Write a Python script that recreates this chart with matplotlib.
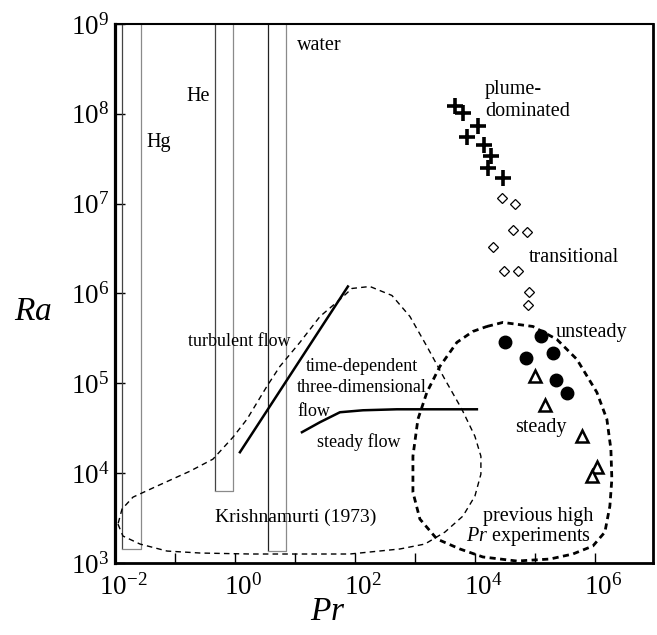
import matplotlib
matplotlib.use("Agg")
import matplotlib.pyplot as plt
import matplotlib.transforms as mtransforms
import numpy as np

plt.rcParams['font.family'] = 'Liberation Serif'
plt.rcParams['mathtext.fontset'] = 'custom'
plt.rcParams['mathtext.rm'] = 'Liberation Serif'
plt.rcParams['mathtext.it'] = 'Liberation Serif:italic'

# Fluid ranges (open-topped boxes)
fluids = ['Hg', 'He', 'water']
fluid_pr_lo = [0.013, 0.46, 3.5]
fluid_pr_hi = [0.027, 0.93, 7.1]
fluid_ra_min = [1.43e3, 6.4e3, 1.35e3]

# Experimental points
plume_pr = [4.6e3, 6.3e3, 1.12e4, 7.4e3, 1.4e4, 1.85e4, 1.65e4, 2.9e4]
plume_ra = [1.23e8, 1.03e8, 7.4e7, 5.5e7, 4.5e7, 3.4e7, 2.5e7, 1.95e7]

trans_pr = [2.8e4, 4.6e4, 4.3e4, 7.4e4, 2.0e4, 3.0e4, 5.2e4, 7.9e4, 7.6e4]
trans_ra = [1.17e7, 9.8e6, 5.1e6, 4.8e6, 3.3e6, 1.8e6, 1.8e6, 1.03e6, 7.4e5]

unsteady_pr = [3.2e4, 1.26e5, 7.1e4, 2.0e5, 2.24e5, 3.4e5]
unsteady_ra = [2.9e5, 3.4e5, 1.9e5, 2.15e5, 1.1e5, 7.9e4]

steady_pr = [1.0e5, 1.47e5, 6.1e5, 1.08e6, 8.9e5]
steady_ra = [1.2e5, 5.8e4, 2.6e4, 1.17e4, 9.3e3]

# Krishnamurti (1973) regime boundary, log10 values
krish_log_pr = [-1.95, -1.867, -1.583, -1.133, -0.583, 0.25, 1.083, 1.917, 2.75, 3.167,
                3.5, 3.8, 4.0, 4.1, 4.1, 4.0, 3.783, 3.5, 3.2, 2.917, 2.617, 2.25,
                1.95, 1.75, 1.417, 1.083, 0.75, 0.533, 0.2, -0.033, -0.367, -0.75,
                -1.3, -1.7, -1.883, -1.95]
krish_log_ra = [3.433, 3.3, 3.211, 3.133, 3.111, 3.1, 3.1, 3.1, 3.156, 3.211,
                3.344, 3.522, 3.744, 3.989, 4.189, 4.411, 4.711, 5.044, 5.411, 5.744,
                5.978, 6.078, 6.056, 5.933, 5.744, 5.456, 5.189, 4.967, 4.6, 4.4,
                4.156, 4.022, 3.856, 3.733, 3.6, 3.433]

# previous high Pr experiments region, log10 values
prev_log_pr = [4.2, 4.467, 4.967, 5.367, 5.7, 6.033, 6.2, 6.267, 6.283, 6.25, 6.167,
               5.967, 5.633, 5.25, 4.7, 4.133, 3.75, 3.367, 3.083, 2.967, 2.967,
               3.05, 3.2, 3.417, 3.7, 3.967, 4.2]
prev_log_ra = [5.633, 5.678, 5.633, 5.489, 5.267, 4.9, 4.6, 4.267, 3.933, 3.633, 3.344,
               3.189, 3.1, 3.044, 3.022, 3.067, 3.156, 3.267, 3.489, 3.789, 4.189,
               4.6, 4.9, 5.189, 5.456, 5.578, 5.633]

# turbulent / steady flow boundaries, log10 values
turb_log_pr = [0.083, 1.883]
turb_log_ra = [4.233, 6.078]
steadyflow_log_pr = [1.117, 1.417, 1.75, 2.133, 2.7, 4.033]
steadyflow_log_ra = [4.456, 4.567, 4.678, 4.7, 4.711, 4.711]

xticks_exp = list(range(-2, 7))
yticks_exp = list(range(3, 10))

fig = plt.figure(figsize=(6.57, 6.35), dpi=100)
ax = fig.add_axes([0.175, 0.1134, 0.819, 0.8488])
ax.set_xscale('log')
ax.set_yscale('log')
ax.set_xlim(1e-2, 10 ** 6.97)
ax.set_ylim(1e3, 1e9)

# fluid boxes
top = 1e9
for i in range(len(fluids)):
    lo, hi, rmin = fluid_pr_lo[i], fluid_pr_hi[i], fluid_ra_min[i]
    dark = '#222222' if fluids[i] == 'water' else '#444444'
    ax.plot([lo, lo], [top, rmin], color=dark, lw=0.9, solid_capstyle='butt')
    ax.plot([lo, hi, hi], [rmin, rmin, top], color='#8a8a8a', lw=0.9)

# regime curves
ax.plot(10 ** np.array(krish_log_pr), 10 ** np.array(krish_log_ra), color='black',
        lw=1.0, linestyle=(0, (4, 3)))
ax.plot(10 ** np.array(prev_log_pr), 10 ** np.array(prev_log_ra), color='black',
        lw=2.0, linestyle=(0, (2.2, 1.6)))
ax.plot(10 ** np.array(turb_log_pr), 10 ** np.array(turb_log_ra), color='black', lw=1.8)
ax.plot(10 ** np.array(steadyflow_log_pr), 10 ** np.array(steadyflow_log_ra), color='black', lw=1.8)

# data points
ax.plot(plume_pr, plume_ra, linestyle='none', marker='+', ms=11, mew=2.6, color='black')
ax.plot(trans_pr, trans_ra, linestyle='none', marker='D', ms=5, mew=0.9, mfc='white', mec='black')
ax.plot(unsteady_pr, unsteady_ra, linestyle='none', marker='o', ms=9, color='black')
ax.plot(steady_pr, steady_ra, linestyle='none', marker='^', ms=9, mew=1.8, mfc='white', mec='black')

# labels
big = 14.5
mid = 13
ax.text(10.8, 5.8e8, 'water', fontsize=big, va='center')
ax.text(0.158, 1.55e8, 'He', fontsize=big, va='center')
ax.text(0.034, 4.8e7, 'Hg', fontsize=big, va='center')
ax.text(1.47e4, 1.85e8, 'plume-', fontsize=big, va='center')
ax.text(1.47e4, 1.05e8, 'dominated', fontsize=big, va='center')
ax.text(7.9e4, 2.5e6, 'transitional', fontsize=big, va='center')
ax.text(2.24e5, 3.7e5, 'unsteady', fontsize=big, va='center')
ax.text(4.6e4, 3.2e4, 'steady', fontsize=big, va='center')
ax.text(1.17, 2.9e5, 'turbulent flow', fontsize=mid, va='center', ha='center')
ax.text(131, 1.55e5, 'time-dependent', fontsize=mid, va='center', ha='center')
ax.text(10.8, 9.0e4, 'three-dimensional', fontsize=mid, va='center')
ax.text(10.8, 4.9e4, 'flow', fontsize=mid, va='center')
ax.text(23, 2.2e4, 'steady flow', fontsize=mid, va='center')
ax.text(0.46, 3.2e3, 'Krishnamurti (1973)', fontsize=14, va='center')
ax.text(1.12e5, 3.3e3, 'previous high', fontsize=big, va='center', ha='center')
ax.text(7.9e4, 1.95e3, '$Pr$ experiments', fontsize=big, va='center', ha='center')

# axes styling
ax.set_xticks([10.0 ** k for k in xticks_exp])
ax.set_xticklabels(['$10^{%d}$' % k if k % 2 == 0 else '' for k in xticks_exp])
ax.set_yticks([10.0 ** k for k in yticks_exp])
ax.set_yticklabels(['$10^{%d}$' % k for k in yticks_exp])
ax.minorticks_off()
ax.tick_params(axis='both', direction='in', length=7, width=1.0, labelsize=19.5)
ax.tick_params(axis='x', pad=8)
ax.tick_params(axis='y', pad=4)
offset = mtransforms.ScaledTranslation(8 / 100, 0, fig.dpi_scale_trans)
for lab in ax.get_xticklabels():
    lab.set_transform(lab.get_transform() + offset)

ax.spines['left'].set_linewidth(2.3)
ax.spines['bottom'].set_linewidth(2.0)
ax.spines['top'].set_linewidth(1.5)
ax.spines['right'].set_linewidth(2.0)

ax.set_ylabel('$Ra$', fontsize=24, rotation=0, va='center', ha='center')
ax.yaxis.set_label_coords(-0.152, 0.466)
ax.set_xlabel('$Pr$', fontsize=24, va='center', ha='center')
ax.xaxis.set_label_coords(0.396, -0.091)

fig.savefig('out.png', dpi=100)
